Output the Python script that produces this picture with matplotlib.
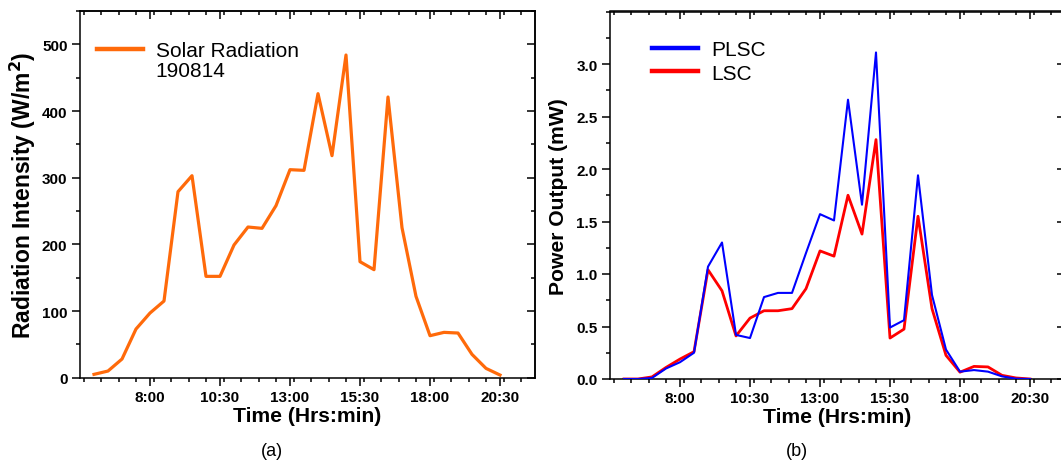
import numpy as np
import matplotlib
matplotlib.use("Agg")
import matplotlib.pyplot as plt
from matplotlib.ticker import MultipleLocator, FixedLocator, FuncFormatter
from matplotlib.lines import Line2D

plt.rcParams["font.family"] = ["Liberation Sans", "DejaVu Sans"]

# Sampling times (every half hour)
times = ["6:00", "6:30", "7:00", "7:30", "8:00", "8:30", "9:00", "9:30",
         "10:00", "10:30", "11:00", "11:30", "12:00", "12:30", "13:00", "13:30",
         "14:00", "14:30", "15:00", "15:30", "16:00", "16:30", "17:00", "17:30",
         "18:00", "18:30", "19:00", "19:30", "20:00", "20:30"]

# Solar radiation (W/m^2), 190814
radiation = [5, 10, 28, 73, 97, 115, 279, 303, 152, 152, 199, 226, 224, 258,
             312, 311, 426, 333, 484, 174, 162, 421, 225, 122, 63, 68, 67, 35,
             14, 4]

# Power output (mW)
plsc = [0.0, 0.0, 0.01, 0.10, 0.16, 0.25, 1.07, 1.30, 0.42, 0.39, 0.78, 0.82,
        0.82, 1.20, 1.57, 1.51, 2.66, 1.66, 3.11, 0.49, 0.56, 1.94, 0.80, 0.28,
        0.07, 0.085, 0.07, 0.025, 0.003, 0.0]
lsc = [0.0, 0.0, 0.02, 0.11, 0.19, 0.26, 1.04, 0.84, 0.41, 0.58, 0.65, 0.65,
       0.67, 0.86, 1.22, 1.17, 1.75, 1.38, 2.28, 0.39, 0.475, 1.55, 0.67, 0.225,
       0.065, 0.12, 0.115, 0.035, 0.01, 0.0]

major_times = ["8:00", "10:30", "13:00", "15:30", "18:00", "20:30"]
rad_ticks = [0, 100, 200, 300, 400, 500]
pow_ticks = [0.0, 0.5, 1.0, 1.5, 2.0, 2.5, 3.0]


def to_hours(s):
    h, m = s.split(":")
    return int(h) + int(m) / 60.0


hours = [to_hours(t) for t in times]
major_hours = [to_hours(t) for t in major_times]


def fmt_time(x, pos):
    h = int(np.floor(x + 1e-9))
    m = int(round((x - h) * 60))
    return f"{h}:{m:02d}"


W, H = 1061, 464
LABEL_FS = 15.2
TICK_FS = 11
LEG_FS = 15
fig = plt.figure(figsize=(W / 100, H / 100), dpi=100)


def setup_time_axis(ax):
    ax.set_xlim(5.5, 21.75)
    ax.xaxis.set_major_locator(FixedLocator(major_hours))
    ax.xaxis.set_minor_locator(MultipleLocator(0.625))
    ax.xaxis.set_major_formatter(FuncFormatter(fmt_time))
    ax.set_xlabel("Time (Hrs:min)", fontsize=LABEL_FS, fontweight="bold",
                  labelpad=1)


def mirror_ticks(ax, ymajor, yminor):
    top = ax.secondary_xaxis("top")
    top.xaxis.set_major_locator(FixedLocator(major_hours))
    top.xaxis.set_minor_locator(MultipleLocator(0.625))
    top.tick_params(which="both", direction="in", labeltop=False, width=1.1)
    top.tick_params(which="major", length=6)
    top.tick_params(which="minor", length=3)
    top.spines["top"].set_linewidth(1.1)
    right = ax.secondary_yaxis("right")
    right.yaxis.set_major_locator(FixedLocator(ymajor))
    right.yaxis.set_minor_locator(MultipleLocator(yminor))
    right.tick_params(which="both", direction="in", labelright=False, width=1.1)
    right.tick_params(which="major", length=6)
    right.tick_params(which="minor", length=3)
    right.spines["right"].set_linewidth(1.1)


# (a) Solar radiation
ax1 = fig.add_axes([80 / W, (H - 378.7) / H, 455 / W, 366.7 / H])
ax1.plot(hours, radiation, color="#FF6A0A", lw=2.3, label="Solar Radiation")
ax1.set_ylim(0, 550)
ax1.yaxis.set_major_locator(FixedLocator(rad_ticks))
ax1.yaxis.set_minor_locator(MultipleLocator(50))
setup_time_axis(ax1)
ax1.set_ylabel("Radiation Intensity (W/m$^\\mathbf{2}$)", fontsize=16.5,
               fontweight="bold", labelpad=3)
ax1.legend(handles=[Line2D([], [], color="#FF6A0A", lw=3.2),
                    Line2D([], [], alpha=0)],
           labels=["Solar Radiation", "190814"],
           loc="upper left", bbox_to_anchor=(0.02, 0.94), frameon=False,
           fontsize=LEG_FS, handlelength=2.2, handletextpad=0.6,
           labelspacing=0.04, borderaxespad=0)
mirror_ticks(ax1, rad_ticks, 50)

# (b) Power output
ax2 = fig.add_axes([610 / W, (H - 380) / H, 455 / W, 367.5 / H])
ax2.plot(hours, lsc, color="#FF0000", lw=2.0, label="LSC", zorder=2)
ax2.plot(hours, plsc, color="#0000FF", lw=1.5, label="PLSC", zorder=3)
ax2.set_ylim(0, 3.5)
ax2.yaxis.set_major_locator(FixedLocator(pow_ticks))
ax2.yaxis.set_minor_locator(MultipleLocator(0.25))
ax2.yaxis.set_major_formatter(FuncFormatter(lambda v, p: f"{v:.1f}"))
setup_time_axis(ax2)
ax2.set_ylabel("Power Output (mW)", fontsize=LABEL_FS, fontweight="bold",
               labelpad=6)
ax2.legend(handles=[Line2D([], [], color="#0000FF", lw=3.2),
                    Line2D([], [], color="#FF0000", lw=3.2)],
           labels=["PLSC", "LSC"],
           loc="upper left", bbox_to_anchor=(0.075, 0.944), frameon=False,
           fontsize=LEG_FS, handlelength=2.2, handletextpad=0.6,
           labelspacing=0.2, borderaxespad=0)
mirror_ticks(ax2, pow_ticks, 0.25)

for ax in (ax1, ax2):
    for s in ax.spines.values():
        s.set_linewidth(1.1)
    ax.tick_params(which="both", direction="out", width=1.1, labelsize=TICK_FS,
                   pad=3, top=False, right=False)
    ax.tick_params(which="major", length=6)
    ax.tick_params(which="minor", length=3)
    for lab in ax.get_xticklabels() + ax.get_yticklabels():
        lab.set_fontweight("bold")

fig.text(272 / W, 1 - 452 / H, "(a)", ha="center", va="center", fontsize=13)
fig.text(797 / W, 1 - 452 / H, "(b)", ha="center", va="center", fontsize=13)

fig.savefig("out.png", dpi=100)
